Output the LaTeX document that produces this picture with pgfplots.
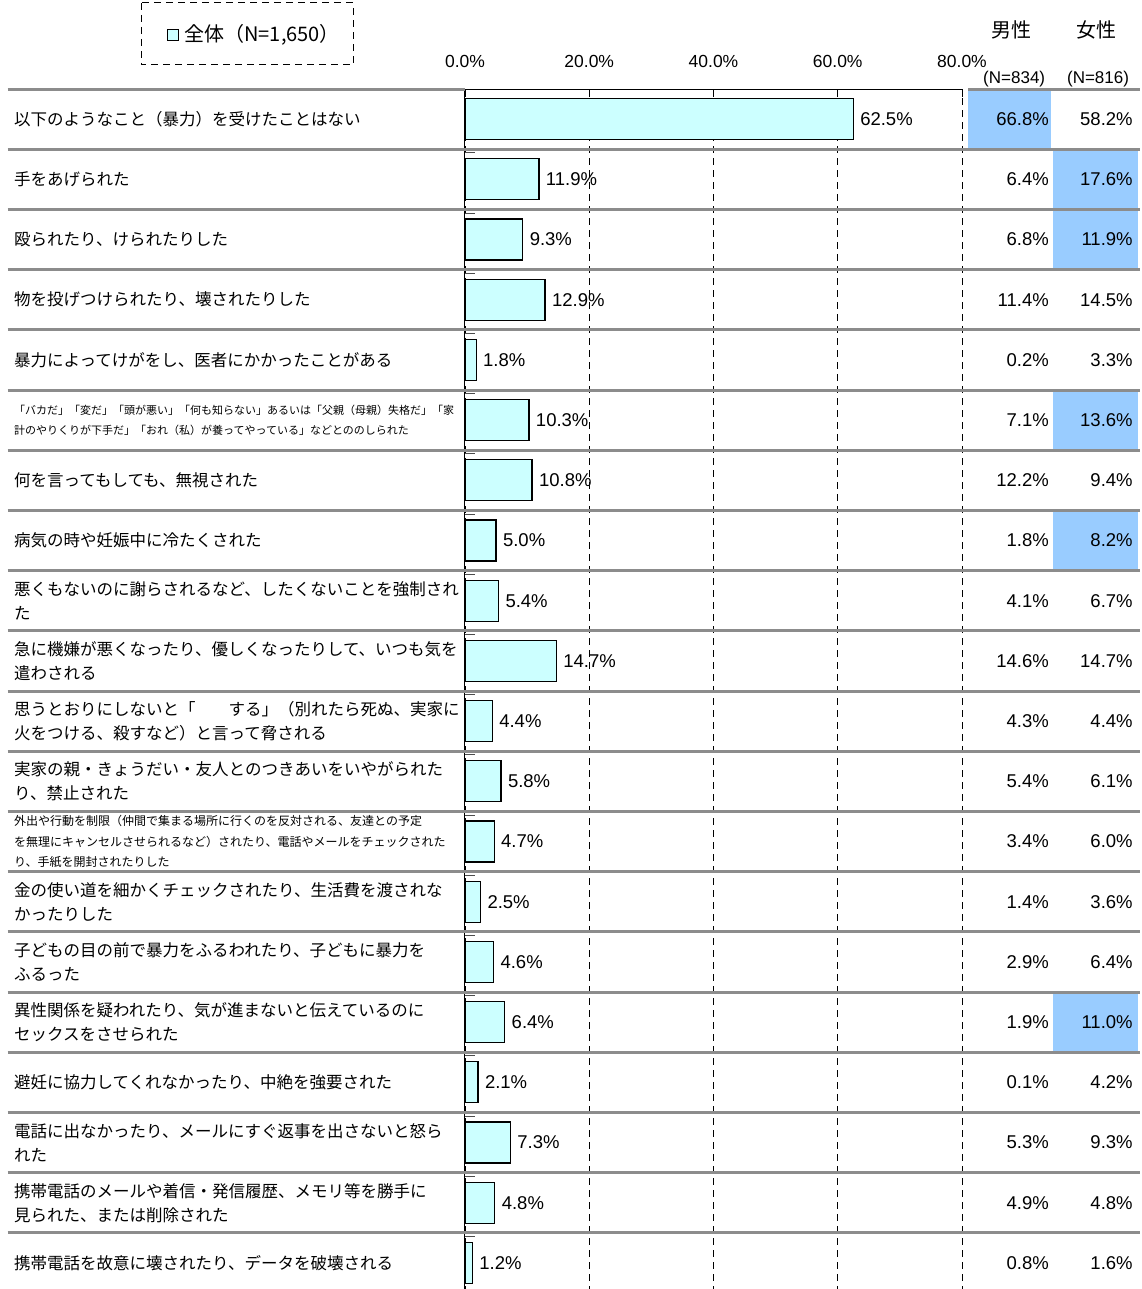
\documentclass[border=0pt]{standalone}
\usepackage{fontspec}
\setmainfont{Liberation Sans}
\newfontfamily\cjk{Noto Sans CJK JP}
\usepackage{pgfplots}
\usepackage{pgfplotstable}
\pgfplotsset{compat=1.18}
\pgfplotsset{/pgf/number format/assume math mode=true}
\definecolor{barfill}{HTML}{CCFFFF}
\definecolor{hl}{HTML}{99CCFF}
\definecolor{sepc}{HTML}{8C8C8C}

\pgfplotstableread{
idx total male female
0 62.5 66.8 58.2
1 11.9 6.4 17.6
2 9.3 6.8 11.9
3 12.9 11.4 14.5
4 1.8 0.2 3.3
5 10.3 7.1 13.6
6 10.8 12.2 9.4
7 5.0 1.8 8.2
8 5.4 4.1 6.7
9 14.7 14.6 14.7
10 4.4 4.3 4.4
11 5.8 5.4 6.1
12 4.7 3.4 6.0
13 2.5 1.4 3.6
14 4.6 2.9 6.4
15 6.4 1.9 11.0
16 2.1 0.1 4.2
17 7.3 5.3 9.3
18 4.8 4.9 4.8
19 1.2 0.8 1.6
}\datatable

\newcommand{\lab}{\cjk\fontsize{16.5}{24}\selectfont}
\newcommand{\numf}{\fontsize{18.5}{20}\selectfont}
\newcommand{\pct}[1]{\pgfmathprintnumber[fixed,fixed zerofill,precision=1]{#1}\%}

\begin{document}
\begin{tikzpicture}
\useasboundingbox (-465pt,4pt) rectangle (676pt,1293pt);
\begin{axis}[
  at={(0,0)}, anchor=south west,
  scale only axis, width=497pt, height=1204pt,
  xmin=0, xmax=80, ymin=-19.5, ymax=0.5,
  clip=false,
  separate axis lines,
  axis x line*=top, axis y line*=left,
  x axis line style={-, black, line width=1pt},
  y axis line style={-, black, line width=1pt},
  xtick={0,20,40,60,80}, ytick=\empty,
  xticklabel={\pct{\tick}},
  xticklabel style={font=\fontsize{17.5}{20}\selectfont, yshift=18pt},
  xmajorgrids,
  grid style={black, line width=0.8pt, dash pattern=on 7pt off 5pt},
  major tick length=8pt, xtick align=inside,
  tick style={black, line width=0.8pt},
]
% highlighted cells
\fill[hl] (axis cs:81.0,0.5) rectangle (axis cs:94.4,-0.5);
\fill[hl] (axis cs:94.6,-0.5) rectangle (axis cs:108.4,-1.5);
\fill[hl] (axis cs:94.6,-1.5) rectangle (axis cs:108.4,-2.5);
\fill[hl] (axis cs:94.6,-4.5) rectangle (axis cs:108.4,-5.5);
\fill[hl] (axis cs:94.6,-6.5) rectangle (axis cs:108.4,-7.5);
\fill[hl] (axis cs:94.6,-14.5) rectangle (axis cs:108.4,-15.5);

\addplot[xbar, bar width=41pt, fill=barfill, draw=black, line width=1.3pt,
  point meta=x,
  nodes near coords={\pct{\pgfplotspointmeta}},
  nodes near coords align={horizontal},
  nodes near coords style={font=\numf, black, anchor=west, xshift=3pt}]
  table[x=total, y expr=-\thisrow{idx}] {\datatable};

\addplot[draw=none, point meta=explicit,
  nodes near coords={\pct{\pgfplotspointmeta}},
  nodes near coords style={font=\numf, black, anchor=east, inner sep=0pt}]
  table[x expr=94.0, y expr=-\thisrow{idx}, meta=male] {\datatable};
\addplot[draw=none, point meta=explicit,
  nodes near coords={\pct{\pgfplotspointmeta}},
  nodes near coords style={font=\numf, black, anchor=east, inner sep=0pt}]
  table[x expr=107.5, y expr=-\thisrow{idx}, meta=female] {\datatable};

% separators
\draw[sepc, line width=3pt] (axis cs:-73.6,0.5) -- (axis cs:0,0.5);
\draw[sepc, line width=3pt] (axis cs:81.0,0.5) -- (axis cs:108.7,0.5);
\pgfplotsinvokeforeach{0,...,18}{
  \draw[sepc, line width=3pt] (axis cs:-73.6,-#1-0.5) -- (axis cs:108.7,-#1-0.5);
  \draw[black!70, line width=1pt] (axis cs:0,-#1-0.56) -- (axis cs:1.6,-#1-0.56);
}

% headers
\node[font=\cjk\fontsize{20}{22}\selectfont] at (axis cs:88.0,1.48) {男性};
\node[font=\cjk\fontsize{20}{22}\selectfont] at (axis cs:101.6,1.48) {女性};
\node[font=\fontsize{17}{19}\selectfont] at (axis cs:88.4,0.66) {(N=834)};
\node[font=\fontsize{17}{19}\selectfont] at (axis cs:101.9,0.66) {(N=816)};

% legend
\draw[black, line width=0.9pt, dash pattern=on 7pt off 5pt] (axis cs:-52.15,1.93) rectangle (axis cs:-18.03,0.90);
\node[draw=black, line width=1pt, fill=barfill, minimum size=11pt, inner sep=0pt] at (axis cs:-47.0,1.397) {};
\node[anchor=west, inner sep=0pt, font=\cjk\fontsize{20}{22}\selectfont] at (axis cs:-45.2,1.397) {全体（N=1,650）};

% category labels
\node[anchor=west, inner sep=0pt, font=\lab, align=left] at (axis cs:-72.6,0) {以下のようなこと（暴力）を受けたことはない};
\node[anchor=west, inner sep=0pt, font=\lab, align=left] at (axis cs:-72.6,-1) {手をあげられた};
\node[anchor=west, inner sep=0pt, font=\lab, align=left] at (axis cs:-72.6,-2) {殴られたり、けられたりした};
\node[anchor=west, inner sep=0pt, font=\lab, align=left] at (axis cs:-72.6,-3) {物を投げつけられたり、壊されたりした};
\node[anchor=west, inner sep=0pt, font=\lab, align=left] at (axis cs:-72.6,-4) {暴力によってけがをし、医者にかかったことがある};
\node[anchor=west, inner sep=0pt, font=\cjk\fontsize{11}{20}\selectfont, align=left] at (axis cs:-72.6,-5) {「バカだ」「変だ」「頭が悪い」「何も知らない」あるいは「父親（母親）失格だ」「家\\計のやりくりが下手だ」「おれ（私）が養ってやっている」などとののしられた};
\node[anchor=west, inner sep=0pt, font=\lab, align=left] at (axis cs:-72.6,-6) {何を言ってもしても、無視された};
\node[anchor=west, inner sep=0pt, font=\lab, align=left] at (axis cs:-72.6,-7) {病気の時や妊娠中に冷たくされた};
\node[anchor=west, inner sep=0pt, font=\lab, align=left] at (axis cs:-72.6,-8) {悪くもないのに謝らされるなど、したくないことを強制され\\た};
\node[anchor=west, inner sep=0pt, font=\lab, align=left] at (axis cs:-72.6,-9) {急に機嫌が悪くなったり、優しくなったりして、いつも気を\\遣わされる};
\node[anchor=west, inner sep=0pt, font=\lab, align=left] at (axis cs:-72.6,-10) {思うとおりにしないと「　　する」（別れたら死ぬ、実家に\\火をつける、殺すなど）と言って脅される};
\node[anchor=west, inner sep=0pt, font=\lab, align=left] at (axis cs:-72.6,-11) {実家の親・きょうだい・友人とのつきあいをいやがられた\\り、禁止された};
\node[anchor=west, inner sep=0pt, font=\cjk\fontsize{12}{20.5}\selectfont, align=left] at (axis cs:-72.6,-12) {外出や行動を制限（仲間で集まる場所に行くのを反対される、友達との予定\\を無理にキャンセルさせられるなど）されたり、電話やメールをチェックされた\\り、手紙を開封されたりした};
\node[anchor=west, inner sep=0pt, font=\lab, align=left] at (axis cs:-72.6,-13) {金の使い道を細かくチェックされたり、生活費を渡されな\\かったりした};
\node[anchor=west, inner sep=0pt, font=\lab, align=left] at (axis cs:-72.6,-14) {子どもの目の前で暴力をふるわれたり、子どもに暴力を\\ふるった};
\node[anchor=west, inner sep=0pt, font=\lab, align=left] at (axis cs:-72.6,-15) {異性関係を疑われたり、気が進まないと伝えているのに\\セックスをさせられた};
\node[anchor=west, inner sep=0pt, font=\lab, align=left] at (axis cs:-72.6,-16) {避妊に協力してくれなかったり、中絶を強要された};
\node[anchor=west, inner sep=0pt, font=\lab, align=left] at (axis cs:-72.6,-17) {電話に出なかったり、メールにすぐ返事を出さないと怒ら\\れた};
\node[anchor=west, inner sep=0pt, font=\lab, align=left] at (axis cs:-72.6,-18) {携帯電話のメールや着信・発信履歴、メモリ等を勝手に\\見られた、または削除された};
\node[anchor=west, inner sep=0pt, font=\lab, align=left] at (axis cs:-72.6,-19) {携帯電話を故意に壊されたり、データを破壊される};
\end{axis}
\end{tikzpicture}
\end{document}
